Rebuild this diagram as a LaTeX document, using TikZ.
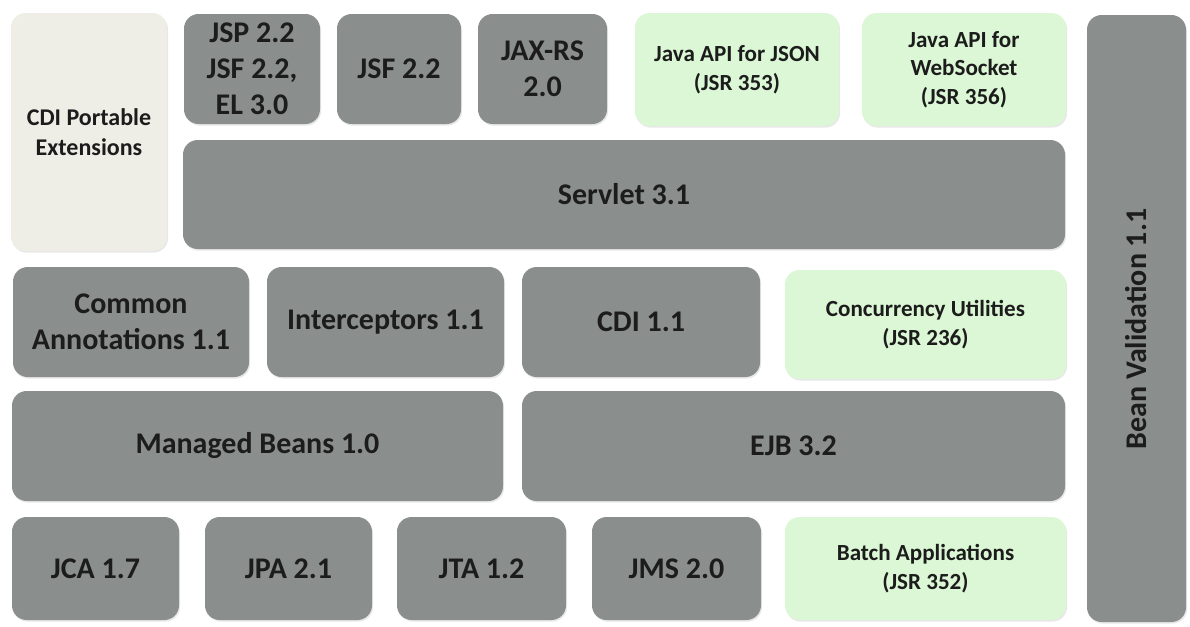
\documentclass[tikz,border=0pt]{standalone}
\usepackage{fontspec}
\setmainfont{Carlito}
\usetikzlibrary{shadows}
\definecolor{boxgray}{HTML}{8A8E8D}
\definecolor{boxgreen}{HTML}{DCF7D5}
\definecolor{boxcream}{HTML}{EFEEE6}
\definecolor{txt}{HTML}{1C1C1C}
\tikzset{
  base/.style={rounded corners=11pt, inner sep=0pt, align=center, text=txt,
    font=\bfseries\fontsize{22.5}{27}\selectfont,
    drop shadow={opacity=0.18, shadow xshift=0.8pt, shadow yshift=-1.2pt}},
  gbox/.style={base, fill=boxgray},
  lbox/.style={base, fill=boxgreen, font=\bfseries\fontsize{17.3}{21.4}\selectfont},
  cbox/.style={base, fill=boxcream, font=\bfseries\fontsize{18}{22}\selectfont},
  wh/.style 2 args={minimum width=#1pt, minimum height=#2pt}
}
\begin{document}
\begin{tikzpicture}[x=0.75pt,y=-0.75pt]
\useasboundingbox[fill=white] (0,0) rectangle (1190,626);
% top row
\node[cbox, wh={117}{178.5}] (portable) at (89,132) {CDI Portable\\Extensions};
\node[gbox, wh={102}{82.5}] (jsp) at (252,69) {JSP 2.2\\JSF 2.2,\\EL 3.0};
\node[gbox, wh={93}{82.5}] (jsf) at (399,69) {JSF 2.2};
\node[gbox, wh={96.75}{82.5}] (jaxrs) at (542.5,69) {JAX-RS\\2.0};
\node[lbox, wh={153}{84.75}] (json) at (737,69.5) {Java API for JSON\\(JSR 353)};
\node[lbox, wh={153}{84.75}] (websocket) at (964,69.5) {Java API for\\WebSocket\\(JSR 356)};
\node[gbox, wh={661.5}{81.75}] (servlet) at (624,194.5) {Servlet 3.1};
% right column
\node[gbox, rotate=90, wh={455.25}{74.25}] (beanval) at (1136.5,318.5) {\raisebox{-3pt}{Bean Validation 1.1}\hspace*{16pt}};
% third row
\node[gbox, wh={177}{82.5}] (common) at (131,322) {Common\\Annotations 1.1};
\node[gbox, wh={177.75}{82.5}] (interceptors) at (385.5,322) {Interceptors 1.1};
\node[gbox, wh={178.5}{82.5}] (cdi) at (641,322) {CDI 1.1};
\node[lbox, wh={210.75}{81.75}] (concurrency) at (925.5,324.5) {Concurrency Utilities\\(JSR 236)};
% fourth row
\node[gbox, wh={368.25}{82.5}] (managed) at (257.5,446) {Managed Beans 1.0};
\node[gbox, wh={407.25}{82.5}] (ejb) at (793.5,446) {EJB 3.2};
% bottom row
\node[gbox, wh={125.25}{77.25}] (jca) at (95.5,568.5) {JCA 1.7};
\node[gbox, wh={125.25}{77.25}] (jpa) at (288.5,568.5) {JPA 2.1};
\node[gbox, wh={126.75}{77.25}] (jta) at (481.5,568.5) {JTA 1.2};
\node[gbox, wh={126.75}{77.25}] (jms) at (676.5,568.5) {JMS 2.0};
\node[lbox, wh={210.75}{77.25}] (batch) at (925.5,568.5) {Batch Applications\\(JSR 352)};
\end{tikzpicture}
\end{document}
